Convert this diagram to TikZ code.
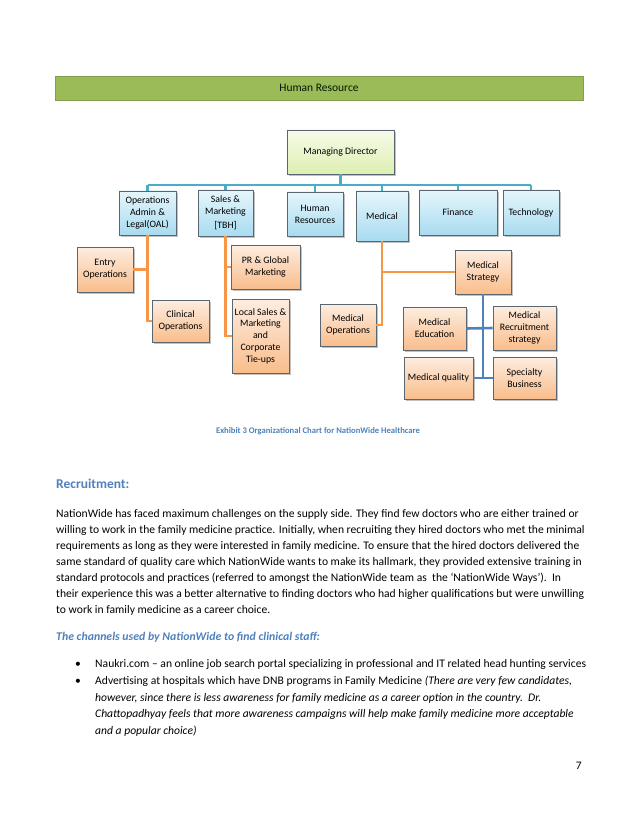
\documentclass[tikz,border=0pt]{standalone}
\usepackage{fontspec}
\setmainfont{Carlito}
\usetikzlibrary{shadows}
\definecolor{hdrblue}{HTML}{4F81BD}
\definecolor{linteal}{HTML}{4BACC6}
\definecolor{linorange}{HTML}{F79646}
\definecolor{linblue}{HTML}{4F81BD}
\definecolor{greenbar}{HTML}{9BBB59}
\definecolor{boxborder}{HTML}{5A6670}
\definecolor{mdtop}{HTML}{F7FBEA}
\definecolor{mdbot}{HTML}{DDEFB0}
\definecolor{bltop}{HTML}{E6F6FC}
\definecolor{blbot}{HTML}{A8DBF0}
\definecolor{ortop}{HTML}{FDEDE0}
\definecolor{orbot}{HTML}{F9BD8B}
\tikzset{
  x=1pt, y=-1pt,
  chartbox/.style={draw=boxborder, line width=0.6pt, align=center, inner sep=1pt,
    font=\fontsize{9.8}{11.8}\selectfont,
    drop shadow={shadow xshift=1.8pt, shadow yshift=-1.8pt, fill=black!40, opacity=0.6}},
  mdbox/.style={chartbox, top color=mdtop, bottom color=mdbot},
  bluebox/.style={chartbox, top color=bltop, bottom color=blbot},
  orbox/.style={chartbox, top color=ortop, bottom color=orbot},
  tealline/.style={draw=linteal, line width=2.6pt},
  orline/.style={draw=linorange, line width=2.3pt},
  blueline/.style={draw=linblue, line width=2.6pt},
  bodyline/.style={anchor=base west, inner sep=0pt, font=\fontsize{11.6}{13}\selectfont},
}
\newcommand{\bx}[7]{\node[#1, minimum width=#5-#3, minimum height=#6-#4] (#2) at ({(#3+#5)/2},{(#4+#6)/2}) {#7};}
\begin{document}
\begin{tikzpicture}
\useasboundingbox (0,0) rectangle (638,826);
\fill[white] (0,0) rectangle (638,826);

% green banner
\node[draw=greenbar!85!black, line width=0.4pt, fill=greenbar, minimum width=528, minimum height=24, inner sep=0pt,
  font=\fontsize{11.5}{13}\selectfont, text=black!90!green] (banner) at (319,88) {Human Resource};

% chart boxes
\bx{mdbox}{md}{287}{130}{394}{174}{Managing Director}
\bx{bluebox}{oal}{119}{191}{176}{235}{Operations\\Admin \&\\Legal(OAL)}
\bx{bluebox}{sales}{198}{190}{253}{236}{Sales \&\\Marketing\\[2pt][TBH]}
\bx{bluebox}{hr}{287}{192}{343}{236}{Human\\Resources}
\bx{bluebox}{medical}{356}{191}{408}{241}{Medical}
\bx{bluebox}{finance}{419}{190}{497}{235}{Finance}
\bx{bluebox}{tech}{503}{190}{559}{235}{Technology}
\bx{orbox}{entry}{77}{247}{133}{292}{Entry\\Operations}
\bx{orbox}{clin}{152}{300}{209}{342}{Clinical\\Operations}
\bx{orbox}{pr}{231}{245}{300}{289}{PR \& Global\\Marketing}
\bx{orbox}{local}{232}{299}{289}{373}{Local Sales \&\\Marketing\\and\\Corporate\\Tie-ups}
\bx{orbox}{medops}{320}{304}{376}{346}{Medical\\Operations}
\bx{orbox}{strat}{455}{250}{511}{294}{Medical\\Strategy}
\bx{orbox}{edu}{403}{307}{466}{350}{Medical\\Education}
\bx{orbox}{recr}{493}{306}{556}{350}{Medical\\Recruitment\\strategy}
\bx{orbox}{qual}{404}{357}{473}{399}{Medical quality}
\bx{orbox}{spec}{493}{357}{556}{399}{Specialty\\Business}

% connectors: top level
\coordinate (bar) at (339,185);
\draw[tealline] (md.south) -- (md.south |- bar);
\draw[tealline] (oal.north |- bar) -- (tech.north |- bar);
\foreach \n in {oal,sales,hr,medical,finance,tech}
  \draw[tealline] (\n.north |- bar) -- (\n.north);

% orange branches
\draw[orline] (oal.south) |- (entry.east);
\draw[orline] (oal.south) |- (clin.west);
\draw[orline] (sales.south) |- (pr.west);
\draw[orline] (sales.south) |- (local.west);
\draw[orline] (medical.south) |- (strat.west);
\draw[orline] (medical.south) |- (medops.east);

% medical strategy subtree
\draw[blueline] (strat.south) -- (strat.south |- spec.west);
\draw[blueline] (edu.east) -- (recr.west);
\draw[blueline] (qual.east) -- (spec.west);

% caption
\node[font=\fontsize{8.6}{10}\selectfont\bfseries, text=hdrblue, inner sep=0pt] (caption) at (318,431)
  {Exhibit 3 Organizational Chart for NationWide Healthcare};

% heading
\node[anchor=base west, inner sep=0pt, font=\fontsize{13.5}{15}\selectfont\bfseries, text=hdrblue] (rec) at (56,488) {Recruitment:};

% body
\node[bodyline] (l1) at (56,517) {NationWide has faced maximum challenges on the supply side.  They find few doctors who are either trained or};
\node[bodyline] (l2) at (56,533) {willing to work in the family medicine practice. Initially, when recruiting they hired doctors who met the minimal};
\node[bodyline] (l3) at (56,549) {requirements as long as they were interested in family medicine. To ensure that the hired doctors delivered the};
\node[bodyline] (l4) at (56,565) {same standard of quality care which NationWide wants to make its hallmark, they provided extensive training in};
\node[bodyline] (l5) at (56,581) {standard protocols and practices (referred to amongst the NationWide team as\ \ the ‘NationWide Ways’).\ \ In};
\node[bodyline] (l6) at (56,597) {their experience this was a better alternative to finding doctors who had higher qualifications but were unwilling};
\node[bodyline] (l7) at (56,613) {to work in family medicine as a career choice.};

\node[anchor=base west, inner sep=0pt, font=\fontsize{11.8}{14}\selectfont\bfseries\itshape, text=hdrblue] (chan) at (56,640)
  {The channels used by NationWide to find clinical staff:};

\node[bodyline] (d1) at (75,667) {•};
\node[bodyline] (b1) at (95,667) {Naukri.com – an online job search portal specializing in professional and IT related head hunting services};
\node[bodyline] (d2) at (75,684) {•};
\node[bodyline] (b2) at (95,684) {Advertising at hospitals which have DNB programs in Family Medicine \textit{(There are very few candidates,}};
\node[bodyline] (b3) at (95,701) {\textit{however, since there is less awareness for family medicine as a career option in the country.\ \ Dr.}};
\node[bodyline] (b4) at (95,717) {\textit{Chattopadhyay feels that more awareness campaigns will help make family medicine more acceptable}};
\node[bodyline] (b5) at (95,734) {\textit{and a popular choice)}};

\node[anchor=base east, inner sep=0pt, font=\fontsize{11.5}{13}\selectfont] (pg) at (582,769) {7};
\end{tikzpicture}
\end{document}
